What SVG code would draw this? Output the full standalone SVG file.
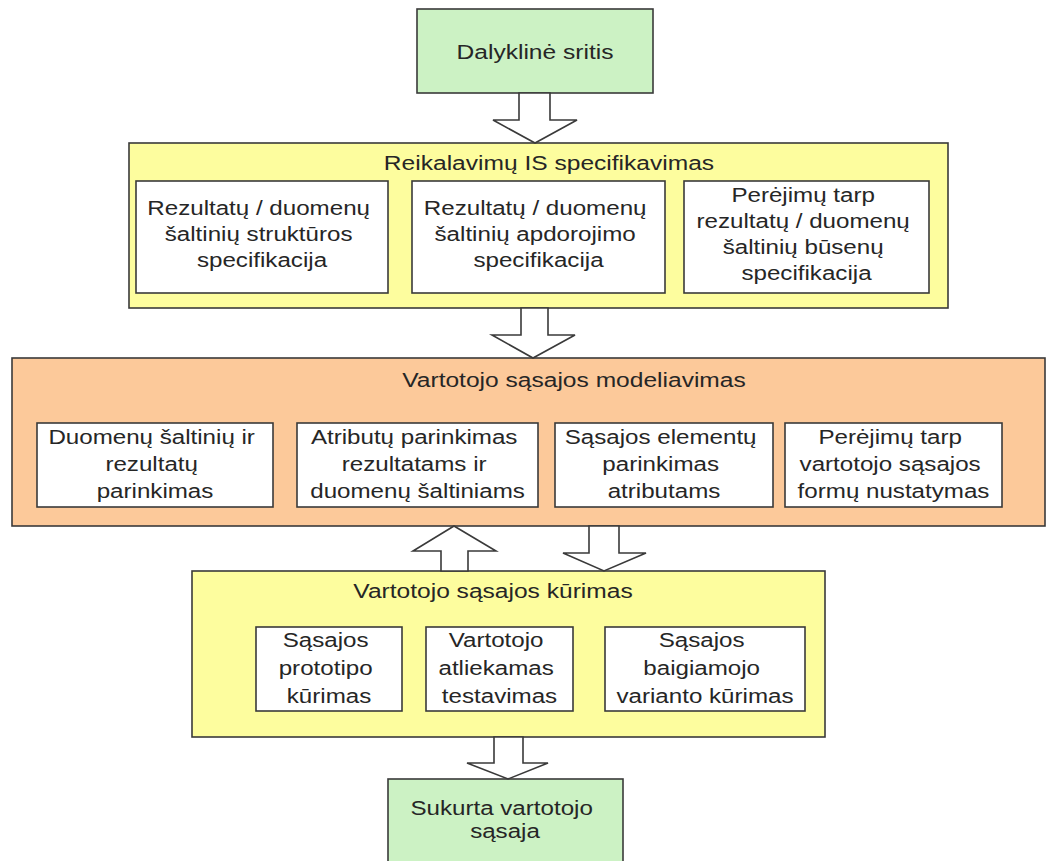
<svg xmlns="http://www.w3.org/2000/svg" width="1050" height="861" viewBox="0 0 1050 861">
  <style>
    .bg { fill: #ffffff; }
    .green { fill: #ccf2c4; stroke: #3a3a3a; stroke-width: 1.6; }
    .yellow { fill: #fdfd9e; stroke: #3a3a3a; stroke-width: 1.6; }
    .orange { fill: #fcc99a; stroke: #3a3a3a; stroke-width: 1.6; }
    .sub { fill: #ffffff; stroke: #3a3a3a; stroke-width: 1.6; }
    .arrow { fill: #ffffff; stroke: #3a3a3a; stroke-width: 1.6; stroke-linejoin: miter; }
    text { font-family: "Liberation Sans", Arial, sans-serif; font-size: 21px; fill: #262626; text-anchor: middle; }
  </style>

  <rect class="bg" x="0" y="0" width="1050" height="861"/>

  <!-- Source domain -->
  <g id="dalykline-sritis">
    <rect class="green" x="417" y="9" width="236" height="84"/>
    <text transform="translate(535,0) scale(1.17,1)"><tspan x="0" y="59">Dalyklinė sritis</tspan></text>
  </g>

  <!-- Requirements specification -->
  <g id="reikalavimu-specifikavimas">
    <rect class="yellow" x="129" y="143" width="819" height="165"/>
    <text transform="translate(549,0) scale(1.17,1)"><tspan x="0" y="170">Reikalavimų IS specifikavimas</tspan></text>
  </g>
  <g id="strukturos-specifikacija">
    <rect class="sub" x="136" y="181" width="252" height="112"/>
    <text transform="translate(262,0) scale(1.15,1)">
      <tspan x="0" y="215">Rezultatų / duomenų</tspan>
      <tspan x="0" y="241">šaltinių struktūros</tspan>
      <tspan x="0" y="267">specifikacija</tspan>
    </text>
  </g>
  <g id="apdorojimo-specifikacija">
    <rect class="sub" x="412" y="181" width="253" height="112"/>
    <text transform="translate(538.5,0) scale(1.15,1)">
      <tspan x="0" y="215">Rezultatų / duomenų</tspan>
      <tspan x="0" y="241">šaltinių apdorojimo</tspan>
      <tspan x="0" y="267">specifikacija</tspan>
    </text>
  </g>
  <g id="busenu-specifikacija">
    <rect class="sub" x="684" y="181" width="245" height="112"/>
    <text transform="translate(806.5,0) scale(1.15,1)">
      <tspan x="0" y="202">Perėjimų tarp</tspan>
      <tspan x="0" y="228">rezultatų / duomenų</tspan>
      <tspan x="0" y="254">šaltinių būsenų</tspan>
      <tspan x="0" y="280">specifikacija</tspan>
    </text>
  </g>

  <!-- User interface modelling -->
  <g id="sasajos-modeliavimas">
    <rect class="orange" x="12" y="358" width="1033" height="168"/>
    <text transform="translate(574,0) scale(1.17,1)"><tspan x="0" y="387">Vartotojo sąsajos modeliavimas</tspan></text>
  </g>
  <g id="saltiniu-parinkimas">
    <rect class="sub" x="37" y="423" width="236" height="84"/>
    <text transform="translate(155,0) scale(1.15,1)">
      <tspan x="0" y="444">Duomenų šaltinių ir</tspan>
      <tspan x="0" y="471">rezultatų</tspan>
      <tspan x="0" y="498">parinkimas</tspan>
    </text>
  </g>
  <g id="atributu-parinkimas">
    <rect class="sub" x="297" y="423" width="241" height="84"/>
    <text transform="translate(417.5,0) scale(1.15,1)">
      <tspan x="0" y="444">Atributų parinkimas</tspan>
      <tspan x="0" y="471">rezultatams ir</tspan>
      <tspan x="0" y="498">duomenų šaltiniams</tspan>
    </text>
  </g>
  <g id="elementu-parinkimas">
    <rect class="sub" x="555" y="423" width="218" height="84"/>
    <text transform="translate(664,0) scale(1.15,1)">
      <tspan x="0" y="444">Sąsajos elementų</tspan>
      <tspan x="0" y="471">parinkimas</tspan>
      <tspan x="0" y="498">atributams</tspan>
    </text>
  </g>
  <g id="formu-nustatymas">
    <rect class="sub" x="785" y="423" width="217" height="84"/>
    <text transform="translate(893.5,0) scale(1.15,1)">
      <tspan x="0" y="444">Perėjimų tarp</tspan>
      <tspan x="0" y="471">vartotojo sąsajos</tspan>
      <tspan x="0" y="498">formų nustatymas</tspan>
    </text>
  </g>

  <!-- User interface construction -->
  <g id="sasajos-kurimas">
    <rect class="yellow" x="192" y="571" width="633" height="166"/>
    <text transform="translate(493,0) scale(1.17,1)"><tspan x="0" y="598">Vartotojo sąsajos kūrimas</tspan></text>
  </g>
  <g id="prototipo-kurimas">
    <rect class="sub" x="256" y="627" width="146" height="84"/>
    <text transform="translate(329,0) scale(1.15,1)">
      <tspan x="0" y="647">Sąsajos</tspan>
      <tspan x="0" y="675">prototipo</tspan>
      <tspan x="0" y="703">kūrimas</tspan>
    </text>
  </g>
  <g id="testavimas">
    <rect class="sub" x="426" y="627" width="147" height="84"/>
    <text transform="translate(499.5,0) scale(1.15,1)">
      <tspan x="0" y="647">Vartotojo</tspan>
      <tspan x="0" y="675">atliekamas</tspan>
      <tspan x="0" y="703">testavimas</tspan>
    </text>
  </g>
  <g id="baigiamojo-kurimas">
    <rect class="sub" x="605" y="627" width="200" height="84"/>
    <text transform="translate(705,0) scale(1.15,1)">
      <tspan x="0" y="647">Sąsajos</tspan>
      <tspan x="0" y="675">baigiamojo</tspan>
      <tspan x="0" y="703">varianto kūrimas</tspan>
    </text>
  </g>

  <!-- Resulting interface -->
  <g id="sukurta-sasaja">
    <rect class="green" x="388" y="779" width="235" height="100"/>
    <text transform="translate(505,0) scale(1.15,1)">
      <tspan x="0" y="815">Sukurta vartotojo</tspan>
      <tspan x="0" y="838">sąsaja</tspan>
    </text>
  </g>

  <!-- Block arrows between stages -->
  <g id="connectors">
    <polygon class="arrow" points="519,93 550,93 550,120 577,120 535,143 493,120 519,120"/>
    <polygon class="arrow" points="521,308 548,308 548,335 575,335 533,358 492,335 521,335"/>
    <polygon class="arrow" points="441,571 468,571 468,551 496,551 454,526 413,551 441,551"/>
    <polygon class="arrow" points="589,526 619,526 619,553 646,553 604,571 563,553 589,553"/>
    <polygon class="arrow" points="494,737 523,737 523,763 548,763 508,779 467,763 494,763"/>
  </g>
</svg>
